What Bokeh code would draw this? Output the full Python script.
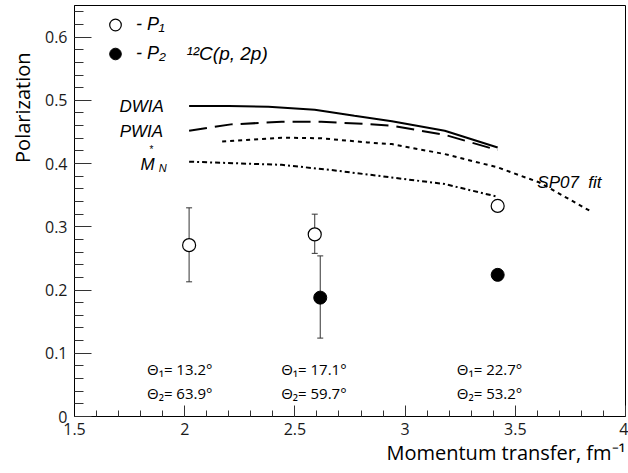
import numpy as np
from bokeh.plotting import figure
from bokeh.models import (ColumnDataSource, Range1d, FixedTicker, Whisker, TeeHead,
                          Label, Legend, LegendItem, Title)
from bokeh.embed import file_html
from bokeh.resources import INLINE

# ---------------- data ----------------
p1_x = [2.02, 2.59, 3.42]
p1_y = [0.271, 0.288, 0.333]
p1_err_x = [2.02, 2.59]
p1_err_lo = [0.213, 0.258]
p1_err_hi = [0.330, 0.320]

p2_x = [2.615, 3.42]
p2_y = [0.188, 0.224]
p2_err_x = [2.615]
p2_err_lo = [0.124]
p2_err_hi = [0.254]

dwia_x = [2.02, 2.20, 2.38, 2.59, 2.77, 2.94, 3.18, 3.42]
dwia_y = [0.491, 0.491, 0.490, 0.485, 0.4755, 0.467, 0.452, 0.4255]

pwia_x = [2.02, 2.21, 2.44, 2.62, 2.83, 2.94, 3.18, 3.42]
pwia_y = [0.452, 0.462, 0.466, 0.466, 0.4624, 0.4597, 0.4455, 0.4213]

sp07_x = [2.17, 2.44, 2.62, 2.83, 2.94, 3.18, 3.42, 3.61, 3.85]
sp07_y = [0.435, 0.441, 0.440, 0.4334, 0.4308, 0.415, 0.394, 0.370, 0.323]

mn_x = [2.02, 2.44, 2.66, 2.94, 3.18, 3.42]
mn_y = [0.403, 0.398, 0.390, 0.378, 0.3676, 0.3475]

theta1 = ["13.2°", "17.1°", "22.7°"]
theta2 = ["63.9°", "59.7°", "53.2°"]

x_ticks = [1.5, 2, 2.5, 3, 3.5, 4]
x_labels = ["1.5", "2", "2.5", "3", "3.5", "4"]
y_ticks = [0, 0.1, 0.2, 0.3, 0.4, 0.5, 0.6]
y_labels = ["0", "0.1", "0.2", "0.3", "0.4", "0.5", "0.6"]

# ---------------- figure ----------------
TICK_FONT = "Open Sans"
ITAL_FONT = "Liberation Sans"

p = figure(width=628, height=473, x_range=Range1d(1.5, 4.0), y_range=Range1d(0, 0.65),
           min_border_left=73, min_border_right=3, min_border_top=5, min_border_bottom=57,
           toolbar_location=None, output_backend="svg")
p.grid.visible = False
p.outline_line_color = "black"
p.outline_line_width = 1
p.background_fill_color = "white"
p.border_fill_color = "white"

p.xaxis.ticker = FixedTicker(ticks=x_ticks, minor_ticks=list(np.round(np.arange(1.5, 4.001, 0.1), 2)))
p.yaxis.ticker = FixedTicker(ticks=y_ticks, minor_ticks=list(np.round(np.arange(0, 0.651, 0.02), 2)))
p.xaxis.major_label_overrides = dict(zip(x_ticks, x_labels))
p.yaxis.major_label_overrides = dict(zip(y_ticks, y_labels))

for ax in (p.xaxis, p.yaxis):
    ax.axis_line_color = "black"
    ax.major_tick_line_color = "#333333"
    ax.minor_tick_line_color = "#333333"
    ax.major_tick_out = 0
    ax.minor_tick_out = 0
    ax.major_label_text_font = TICK_FONT
    ax.major_label_text_font_size = "16px"
    ax.major_label_text_color = "#1a1a1a"
p.yaxis.major_tick_in = 17
p.yaxis.minor_tick_in = 9
p.xaxis.major_tick_in = 11
p.xaxis.minor_tick_in = 6
p.yaxis.major_label_standoff = 7
p.xaxis.major_label_standoff = 6

# axis titles placed in side panels
p.add_layout(Title(text="Polarization", align="right", offset=47, standoff=12,
                   text_font=TICK_FONT, text_font_size="20px", text_font_style="normal",
                   text_color="black"), "left")
p.add_layout(Title(text="Momentum transfer, fm⁻¹", align="right", standoff=-2,
                   text_font=TICK_FONT, text_font_size="20px", text_font_style="normal",
                   text_color="black"), "below")

# ---------------- curves ----------------
p.line(dwia_x, dwia_y, line_color="black", line_width=2)
p.line(pwia_x, pwia_y, line_color="black", line_width=2, line_dash="18 8")
p.line(sp07_x, sp07_y, line_color="black", line_width=2, line_dash="4 4")
p.line(mn_x, mn_y, line_color="black", line_width=2, line_dash="5 3 2 3")

# ---------------- error bars ----------------
src1e = ColumnDataSource(dict(x=p1_err_x, lo=p1_err_lo, hi=p1_err_hi))
src2e = ColumnDataSource(dict(x=p2_err_x, lo=p2_err_lo, hi=p2_err_hi))
for s in (src1e, src2e):
    w = Whisker(source=s, base="x", upper="hi", lower="lo", dimension="height",
                line_color="#333333", line_width=1, level="underlay",
                upper_head=TeeHead(size=6, line_color="#333333", line_width=1),
                lower_head=TeeHead(size=6, line_color="#333333", line_width=1))
    p.add_layout(w)

# ---------------- points ----------------
r1 = p.scatter(p1_x, p1_y, marker="circle", size=13, fill_color="white",
               line_color="black", line_width=1.2)
r2 = p.scatter(p2_x, p2_y, marker="circle", size=13, fill_color="black",
               line_color="black")

legend = Legend(items=[LegendItem(label="- P₁", renderers=[r1]),
                       LegendItem(label="- P₂", renderers=[r2])],
                location=(25, 348), background_fill_alpha=0, border_line_alpha=0,
                glyph_width=32, glyph_height=29, spacing=0, padding=0, margin=0,
                label_standoff=5, label_text_font=ITAL_FONT, label_text_color="black",
                label_text_font_style="italic", label_text_font_size="18px")
p.add_layout(legend)

# ---------------- text ----------------
def lab(x, y, text, size="17px", font=ITAL_FONT, style="italic"):
    p.add_layout(Label(x=x, y=y, text=text, text_font=font, text_font_style=style,
                       text_font_size=size, text_align="left", text_baseline="alphabetic",
                       text_color="black"))

lab(2.008, 0.574, "¹²C(p, 2p)", size="19px")
lab(1.704, 0.490, "DWIA")
lab(1.705, 0.4508, "PWIA")
lab(1.799, 0.3985, "M")
lab(1.882, 0.393, "N", size="11px")
lab(1.840, 0.422, "*", size="10px", style="normal")
lab(3.600, 0.3706, "SP07\u00a0\u00a0fit")

theta_x = [1.829, 2.4375, 3.2346]
for tx, a1, a2 in zip(theta_x, theta1, theta2):
    lab(tx, 0.0759, "Θ₁= " + a1, size="15px", font=TICK_FONT, style="normal")
    lab(tx, 0.0364, "Θ₂= " + a2, size="15px", font=TICK_FONT, style="normal")

open("out.html", "w").write(file_html(p, INLINE))
